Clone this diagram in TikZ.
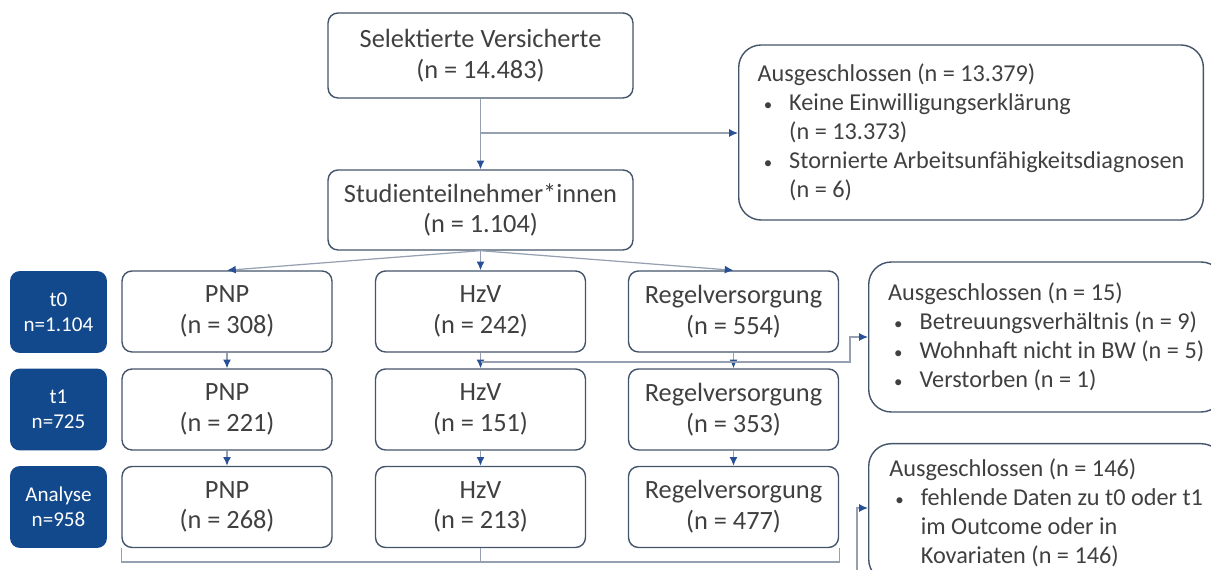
\documentclass[tikz,border=0pt]{standalone}
\usepackage{fontspec}
\setmainfont{Carlito}
\usepackage{tikz}
\usetikzlibrary{arrows.meta}

\definecolor{darkblue}{RGB}{18,72,140}
\definecolor{boxline}{RGB}{68,84,106}
\definecolor{conline}{RGB}{150,160,176}
\definecolor{tipblue}{RGB}{40,80,150}
\definecolor{txt}{RGB}{64,64,64}

\tikzset{
	box/.style={draw=boxline,line width=0.8pt,rounded corners=0.2cm,fill=white,align=center,
		text=txt,font=\fontsize{15}{17.5}\selectfont,minimum width=4.2cm,minimum height=1.62cm},
	timebox/.style={fill=darkblue,rounded corners=0.2cm,align=center,text=white,
		font=\fontsize{12}{14}\selectfont,minimum width=1.94cm,minimum height=1.64cm},
	exclbox/.style={draw=boxline,line width=0.8pt,rounded corners=0.45cm,fill=white,align=left,
		text=txt,font=\fontsize{13.8}{16.5}\selectfont,anchor=west,inner sep=0.38cm},
	con/.style={draw=conline,line width=0.7pt},
	arr/.style={con,-{Latex[length=5pt,width=4.5pt,color=tipblue]}}
}
\newcommand{\bul}{\hspace*{0.25em}\makebox[1.05em][l]{\scalebox{0.7}{\textbullet}}}
\newcommand{\ind}{\hspace*{1.3em}}

\begin{document}
\begin{tikzpicture}[x=0.02cm,y=-0.02cm]
	\useasboundingbox (0,0) rectangle (1211,570);
	\clip (0,0) rectangle (1211,570);

	\node[box,minimum width=6.1cm,minimum height=1.7cm] (sel) at (480.5,55.5) {Selektierte Versicherte\\(n = 14.483)};
	\node[box,minimum width=6.1cm,minimum height=1.6cm] (stud) at (480.5,210) {Studienteilnehmer*innen\\(n = 1.104)};
	\node[exclbox,minimum width=9.1cm,minimum height=3.42cm] (excla) at (738,132.5)
		{Ausgeschlossen (n = 13.379)\\\bul Keine Einwilligungserklärung\\\ind(n = 13.373)\\\bul Stornierte Arbeitsunfähigkeitsdiagnosen\\\ind(n = 6)};

	\node[timebox] (tnull) at (58.5,312) {t0\\n=1.104};
	\node[timebox] (teins) at (58.5,409.5) {t1\\n=725};
	\node[timebox] (tana) at (58.5,507) {Analyse\\n=958};

	\node[box] (pnpa) at (227,311.5) {PNP\\(n = 308)};
	\node[box] (hzva) at (480.5,311.5) {HzV\\(n = 242)};
	\node[box] (rega) at (733.5,311.5) {Regelversorgung\\(n = 554)};
	\node[box] (pnpb) at (227,409.5) {PNP\\(n = 221)};
	\node[box] (hzvb) at (480.5,409.5) {HzV\\(n = 151)};
	\node[box] (regb) at (733.5,409.5) {Regelversorgung\\(n = 353)};
	\node[box] (pnpc) at (227,507) {PNP\\(n = 268)};
	\node[box] (hzvc) at (480.5,507) {HzV\\(n = 213)};
	\node[box] (regc) at (733.5,507) {Regelversorgung\\(n = 477)};

	\node[exclbox,minimum width=7.1cm,minimum height=3cm] (exclb) at (868,337)
		{Ausgeschlossen (n = 15)\\\bul Betreuungsverhältnis (n = 9)\\\bul Wohnhaft nicht in BW (n = 5)\\\bul Verstorben (n = 1)};
	\node[exclbox,minimum width=7.1cm,inner ysep=0.3cm,anchor=north west] (exclc) at (868,443)
		{Ausgeschlossen (n = 146)\\\bul fehlende Daten zu t0 oder t1\\\ind im Outcome oder in\\\ind Kovariaten (n = 146)};

	\coordinate (splita) at (480.5,133);
	\coordinate (splitb) at (480.5,362);
	\coordinate (knee) at (850,362);
	\coordinate (low) at (857,600);
	\coordinate (brack) at (0,562);

	\draw[arr] (sel) -- (stud);
	\draw[arr] (splita) -- (excla.west |- splita);
	\draw[arr] (stud.south) -- (pnpa.north);
	\draw[arr] (stud.south) -- (hzva.north);
	\draw[arr] (stud.south) -- (rega.north);
	\foreach \a/\b in {pnpa/pnpb,hzva/hzvb,rega/regb,pnpb/pnpc,hzvb/hzvc,regb/regc}
		\draw[arr] (\a) -- (\b);
	\draw[arr] (splitb) -- (knee) |- (exclb.west);
	\draw[con] (pnpc.south west) -- (pnpc.south west |- brack) -| (regc.south east);
	\draw[con] (hzvc.south) -- (hzvc.south |- brack);
	\draw[arr] (low) |- (exclc.west |- 0,508);
\end{tikzpicture}
\end{document}
